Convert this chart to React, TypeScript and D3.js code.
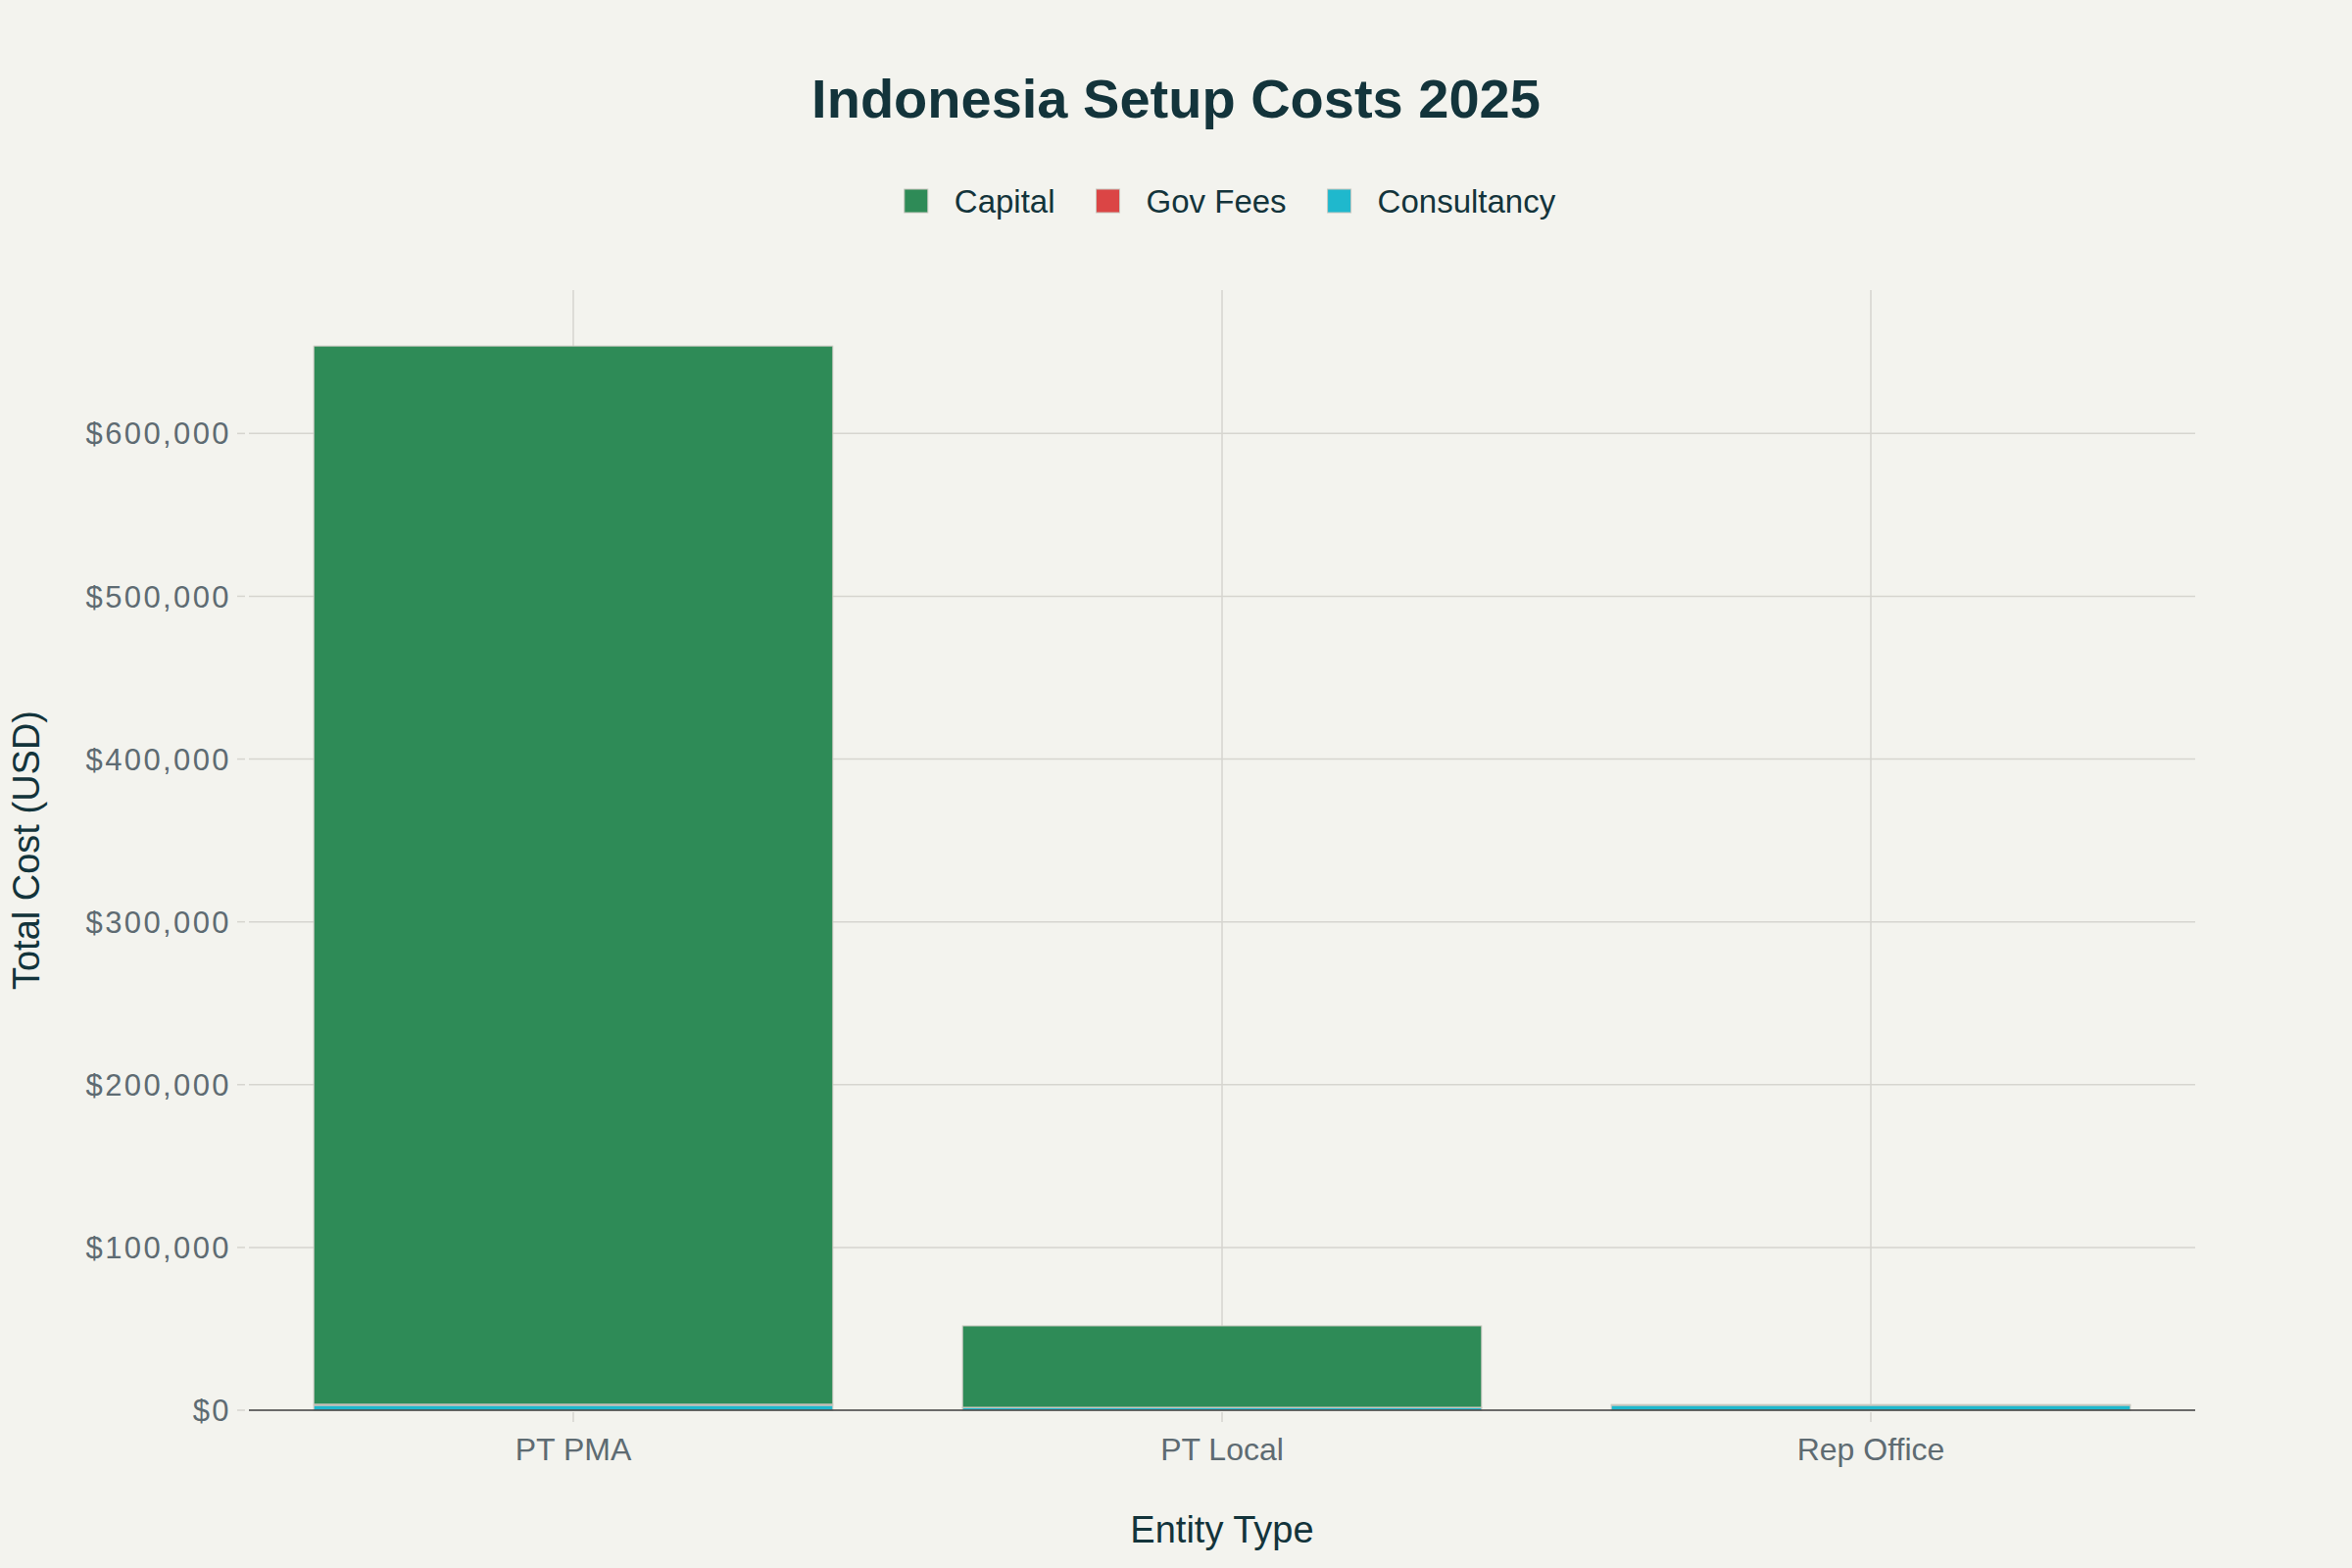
import { useRef, useEffect } from 'react';
import * as d3 from 'd3';

const entityTypes = ['PT PMA', 'PT Local', 'Rep Office'];
const capital = [650000, 50000, 0];
const govFees = [700, 300, 500];
const consultancy = [3000, 1500, 3000];

const seriesNames = ['Capital', 'Gov Fees', 'Consultancy'];
const seriesColors = ['#2E8B57', '#DB4545', '#1FB8CD'];
const yTicks = [0, 100000, 200000, 300000, 400000, 500000, 600000];

const FONT = "'Liberation Sans', Arial, sans-serif";

const App = () => {
  const svgRef = useRef<SVGSVGElement>(null);

  useEffect(() => {
    if (!svgRef.current) return;

    const width = 2400;
    const height = 1600;
    const margin = { top: 296, right: 160, bottom: 161, left: 254 };

    const svg = d3.select(svgRef.current).attr('width', width).attr('height', height);
    svg.selectAll('*').remove();

    svg.append('rect').attr('width', width).attr('height', height).attr('fill', '#F3F3EE');

    const rows = entityTypes.map((name, i) => ({
      name,
      Capital: capital[i],
      'Gov Fees': govFees[i],
      Consultancy: consultancy[i],
    }));

    // bottom to top: consultancy, gov fees, capital
    const stack = d3.stack<any>().keys(['Consultancy', 'Gov Fees', 'Capital']);
    const layers = stack(rows);

    const maxTotal = d3.max(rows, (d) => d.Capital + d['Gov Fees'] + d.Consultancy) as number;

    const x = d3
      .scaleBand()
      .domain(entityTypes)
      .range([margin.left, width - margin.right])
      .paddingInner(0.2)
      .paddingOuter(0.1);

    const y = d3
      .scaleLinear()
      .domain([0, maxTotal * 1.0526])
      .range([height - margin.bottom, margin.top]);

    const color = d3.scaleOrdinal<string>().domain(seriesNames).range(seriesColors);

    const plotBottom = height - margin.bottom;
    const plotLeft = margin.left;
    const plotRight = width - margin.right;

    // grid
    svg
      .append('g')
      .selectAll('line')
      .data(yTicks.filter((t) => t > 0))
      .enter()
      .append('line')
      .attr('x1', plotLeft)
      .attr('x2', plotRight)
      .attr('y1', (d) => y(d))
      .attr('y2', (d) => y(d))
      .attr('stroke', '#D6D5CF')
      .attr('stroke-width', 1.5);

    svg
      .append('g')
      .selectAll('line')
      .data(entityTypes)
      .enter()
      .append('line')
      .attr('x1', (d) => (x(d) as number) + x.bandwidth() / 2)
      .attr('x2', (d) => (x(d) as number) + x.bandwidth() / 2)
      .attr('y1', margin.top)
      .attr('y2', plotBottom)
      .attr('stroke', '#D6D5CF')
      .attr('stroke-width', 1.5);

    // bars
    svg
      .append('g')
      .selectAll('g')
      .data(layers)
      .enter()
      .append('g')
      .attr('fill', (d) => color(d.key))
      .selectAll('rect')
      .data((d) => d)
      .enter()
      .append('rect')
      .attr('x', (d: any) => x(d.data.name) as number)
      .attr('width', x.bandwidth())
      .attr('y', (d) => y(d[1]))
      .attr('height', (d) => Math.max(0, y(d[0]) - y(d[1])))
      .attr('stroke', '#C9C8C0')
      .attr('stroke-width', (d) => (d[1] - d[0] > 0 ? 1 : 0));

    // x axis line
    svg
      .append('line')
      .attr('x1', plotLeft)
      .attr('x2', plotRight)
      .attr('y1', plotBottom)
      .attr('y2', plotBottom)
      .attr('stroke', '#3D3D3D')
      .attr('stroke-width', 1.5);

    // x ticks
    const xt = svg.append('g');
    xt.selectAll('line')
      .data(entityTypes)
      .enter()
      .append('line')
      .attr('x1', (d) => (x(d) as number) + x.bandwidth() / 2)
      .attr('x2', (d) => (x(d) as number) + x.bandwidth() / 2)
      .attr('y1', plotBottom + 2)
      .attr('y2', plotBottom + 12)
      .attr('stroke', '#D6D5CF')
      .attr('stroke-width', 1.5);
    xt.selectAll('text')
      .data(entityTypes)
      .enter()
      .append('text')
      .attr('x', (d) => (x(d) as number) + x.bandwidth() / 2)
      .attr('y', plotBottom + 51)
      .attr('text-anchor', 'middle')
      .attr('font-family', FONT)
      .attr('font-size', 32)
      .attr('fill', '#5E6B72')
      .text((d) => d);

    // y ticks
    const fmt = d3.format(',');
    const yt = svg.append('g');
    yt.selectAll('line')
      .data(yTicks)
      .enter()
      .append('line')
      .attr('x1', plotLeft - 12)
      .attr('x2', plotLeft - 4)
      .attr('y1', (d) => y(d))
      .attr('y2', (d) => y(d))
      .attr('stroke', '#D6D5CF')
      .attr('stroke-width', 1.5);
    yt.selectAll('text')
      .data(yTicks)
      .enter()
      .append('text')
      .attr('x', plotLeft - 18)
      .attr('y', (d) => y(d))
      .attr('dy', '0.36em')
      .attr('text-anchor', 'end')
      .attr('font-family', FONT)
      .attr('font-size', 31)
      .attr('letter-spacing', 2.4)
      .attr('fill', '#5E6B72')
      .text((d) => `$${fmt(d)}`);

    // axis titles
    svg
      .append('text')
      .attr('x', (plotLeft + plotRight) / 2)
      .attr('y', 1574)
      .attr('text-anchor', 'middle')
      .attr('font-family', FONT)
      .attr('font-size', 38)
      .attr('fill', '#13343B')
      .text('Entity Type');

    svg
      .append('text')
      .attr('transform', `translate(40, ${(margin.top + plotBottom) / 2}) rotate(-90)`)
      .attr('text-anchor', 'middle')
      .attr('font-family', FONT)
      .attr('font-size', 38)
      .attr('fill', '#13343B')
      .text('Total Cost (USD)');

    // title
    svg
      .append('text')
      .attr('x', width / 2)
      .attr('y', 120)
      .attr('text-anchor', 'middle')
      .attr('font-family', FONT)
      .attr('font-weight', 'bold')
      .attr('font-size', 56)
      .attr('fill', '#13343B')
      .text('Indonesia Setup Costs 2025');

    // legend
    const legend = svg.append('g');
    let cursor = 0;
    seriesNames.forEach((name) => {
      const item = legend.append('g').attr('transform', `translate(${cursor}, 0)`);
      item
        .append('rect')
        .attr('x', 0)
        .attr('y', -12)
        .attr('width', 24)
        .attr('height', 24)
        .attr('fill', color(name))
        .attr('stroke', '#C9C8C0')
        .attr('stroke-width', 1);
      const t = item
        .append('text')
        .attr('x', 51)
        .attr('y', 0)
        .attr('dy', '0.36em')
        .attr('font-family', FONT)
        .attr('font-size', 33)
        .attr('fill', '#13343B')
        .text(name);
      const w = (t.node() as SVGTextElement).getComputedTextLength();
      cursor += 51 + w + 42;
    });
    const legendWidth = cursor - 42;
    legend.attr('transform', `translate(${1255 - legendWidth / 2}, 205)`);
  }, []);

  return (
    <div style={{ position: 'absolute', left: 0, top: 0 }}>
      <svg ref={svgRef} style={{ display: 'block' }}></svg>
    </div>
  );
};

export default App;
